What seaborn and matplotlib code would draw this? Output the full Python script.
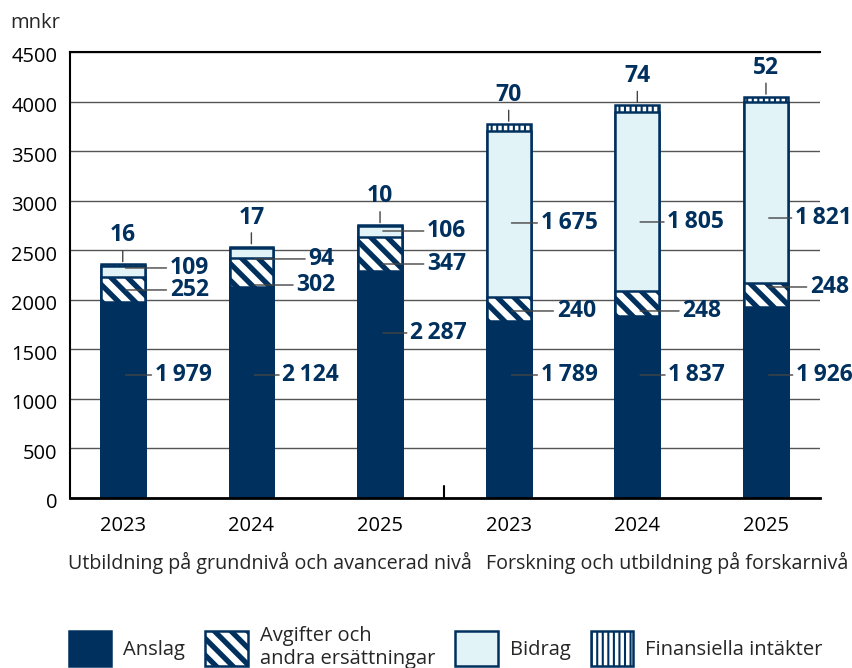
import matplotlib
matplotlib.use('Agg')
import matplotlib.pyplot as plt
from matplotlib.patches import Patch
from matplotlib.transforms import ScaledTranslation
import pandas as pd
import seaborn as sns

# Data (mnkr)
keys = ['G2023', 'G2024', 'G2025', 'F2023', 'F2024', 'F2025']
year_labels = ['2023', '2024', '2025', '2023', '2024', '2025']
anslag = [1979, 2124, 2287, 1789, 1837, 1926]
avgifter = [252, 302, 347, 240, 248, 248]
bidrag = [109, 94, 106, 1675, 1805, 1821]
finansiella = [16, 17, 10, 70, 74, 52]
group_labels = ['Utbildning på grundnivå och avancerad nivå',
                'Forskning och utbildning på forskarnivå']

navy = '#00305e'
light = '#e1f3f7'

sns.set_style('white')
plt.rcParams['font.family'] = ['Open Sans', 'DejaVu Sans']


def set_hlw(p, lw):
    # hatch line width per artist
    if hasattr(p, 'set_hatch_linewidth'):
        p.set_hatch_linewidth(lw)
    else:
        p._hatch_linewidth = lw


df = pd.DataFrame({'grupp': keys, 'Anslag': anslag, 'Avgifter': avgifter,
                   'Bidrag': bidrag, 'Finansiella': finansiella})
df['c1'] = df['Anslag']
df['c2'] = df['c1'] + df['Avgifter']
df['c3'] = df['c2'] + df['Bidrag']
df['c4'] = df['c3'] + df['Finansiella']

fig = plt.figure(figsize=(8.52, 6.68), dpi=100)
ax = fig.add_axes([70 / 852, 1 - 498 / 668, 750 / 852, 446 / 668])

# stacked bars: draw cumulative totals from the top down
stripe = '\\\\'
layers = [('c4', 'white', '|||', 1.5),
          ('c3', light, None, 0),
          ('c2', 'white', stripe, 3.8),
          ('c1', navy, None, 0)]
for col, fc, hatch, hlw in layers:
    with plt.rc_context({'hatch.linewidth': hlw if hlw else 1.0}):
        sns.barplot(data=df, x='grupp', y=col, order=keys, color=fc,
                    saturation=1, width=0.34, edgecolor=navy, linewidth=1.8,
                    ax=ax, zorder=2)
        if hatch:
            for p in ax.containers[-1]:
                p.set_hatch(hatch)
                set_hlw(p, hlw)

ax.set_xlim(-0.41, 5.42)
ax.set_ylim(0, 4500)
ax.set_yticks(range(0, 4501, 500))
ax.set_xticks(range(6))
ax.set_xticklabels(year_labels)
ax.set_xlabel('')
ax.set_ylabel('')
ax.tick_params(axis='both', length=0, labelsize=14.5, colors='black')
ax.tick_params(axis='x', pad=13)
ax.tick_params(axis='y', pad=9)
for lab in ax.get_yticklabels():
    lab.set_transform(lab.get_transform() + ScaledTranslation(0, -3 / 100, fig.dpi_scale_trans))
ax.yaxis.grid(True, color='#555555', lw=1)
ax.set_axisbelow(True)
for s in ['left', 'top']:
    ax.spines[s].set_color('black')
    ax.spines[s].set_linewidth(1.5)
ax.spines['bottom'].set_color('black')
ax.spines['bottom'].set_linewidth(2)
ax.spines['right'].set_visible(False)

# separator tick between the two groups
ax.axvline(2.5, ymin=0, ymax=12 / 446, color='black', lw=1.5)


def fmt(v):
    return f'{v:,}'.replace(',', '\u2009')


label_kw = dict(fontsize=16.5, fontweight='bold', color=navy, va='center', ha='left')
line_kw = dict(arrowstyle='-', color='#444444', lw=1, shrinkA=0, shrinkB=2)

# label layout (y in data units, x gap in pixels from bar edge)
anslag_y = [1241, 1241, 1665, 1241, 1241, 1241]
anslag_dx = [10, 9, 8, 10, 9, 8]
avg_y = [2099, 2149, 2361, 1887, 1887, 2129]
avg_dx = [25, 23, 25, 26, 23, 22]
bid_y = [2321, 2412, 2694, 2775, 2785, 2825]
bid_dx = [25, 35, 25, 10, 8, 7]

half = 22  # half bar width in pixels
for i in range(6):
    for vals, ys, dxs in [(anslag, anslag_y, anslag_dx),
                          (avgifter, avg_y, avg_dx),
                          (bidrag, bid_y, bid_dx)]:
        ax.annotate(fmt(vals[i]), xy=(i, ys[i]), xytext=(half + dxs[i], 0),
                    textcoords='offset pixels', arrowprops=line_kw,
                    annotation_clip=False, **label_kw)
    top = df['c4'][i]
    ax.annotate(fmt(finansiella[i]), xy=(i, top), xytext=(0, 29),
                textcoords='offset pixels', arrowprops=line_kw,
                fontsize=16.5, fontweight='bold', color=navy,
                ha='center', va='center', annotation_clip=False)

# texts outside axes
fig.text(10 / 852, 1 - 23 / 668, 'mnkr', fontsize=14.5, ha='left', va='center')
fig.text(68 / 852, 1 - 563 / 668, group_labels[0], fontsize=14.2, ha='left', va='center')
fig.text(848 / 852, 1 - 563 / 668, group_labels[1], fontsize=14.2, ha='right', va='center')

# legend
handles = [Patch(facecolor=navy, edgecolor=navy, lw=1.8),
           Patch(facecolor='white', edgecolor=navy, hatch=stripe, lw=1.8),
           Patch(facecolor=light, edgecolor=navy, lw=1.8),
           Patch(facecolor='white', edgecolor=navy, hatch='|||', lw=1.8)]
names = ['Anslag', 'Avgifter och\nandra ersättningar', 'Bidrag', 'Finansiella intäkter']
leg = fig.legend(handles, names, loc='lower left', bbox_to_anchor=(69 / 852, -0.002),
                 ncol=4, frameon=False, fontsize=14.5, handlelength=2.1,
                 handleheight=2.25, handletextpad=0.6, columnspacing=1.0,
                 borderpad=0, borderaxespad=0)
for h, lw in zip(leg.legend_handles, [1.0, 3.8, 1.0, 1.5]):
    set_hlw(h, lw)
for t in leg.get_texts():
    t.set_linespacing(1.25)

fig.savefig('out.png', dpi=100)
